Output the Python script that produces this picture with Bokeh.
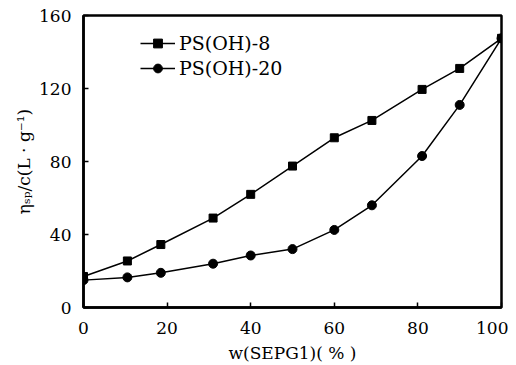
from bokeh.plotting import figure
from bokeh.models import Range1d, FixedTicker, Legend, LegendItem
from bokeh.embed import file_html
from bokeh.resources import INLINE

# data
w_sepg1 = [0, 10.5, 18.5, 31, 40, 50, 60, 69, 81, 90, 100]
ps_oh_8 = [17, 25.5, 34.5, 49, 62, 77.5, 93, 102.5, 119.5, 131, 147.5]
ps_oh_20 = [15, 16.5, 19, 24, 28.5, 32, 42.5, 56, 83, 111, 147.5]
x_ticks = [0, 20, 40, 60, 80, 100]
y_ticks = [0, 40, 80, 120, 160]

FONT = "DejaVu Serif"

p = figure(frame_width=418, frame_height=292,
           output_backend="svg", toolbar_location=None,
           x_range=Range1d(0, 100), y_range=Range1d(0, 160),
           min_border_left=83, min_border_right=7, min_border_top=15, min_border_bottom=50)
p.grid.visible = False
p.outline_line_color = "black"
p.outline_line_width = 2.5

for ax in (p.xaxis[0], p.yaxis[0]):
    ax.axis_line_width = 2.5
    ax.axis_line_color = "black"
    ax.major_tick_in = 5
    ax.major_tick_out = 0
    ax.minor_tick_line_color = None
    ax.major_tick_line_width = 1.5
    ax.major_label_text_font = FONT
    ax.major_label_text_font_size = "17px"
    ax.major_label_text_color = "black"
    ax.axis_label_text_font = FONT
    ax.axis_label_text_font_size = "17px"
    ax.axis_label_text_font_style = "normal"
    ax.axis_label_text_color = "black"

p.xaxis.ticker = FixedTicker(ticks=x_ticks)
p.yaxis.ticker = FixedTicker(ticks=y_ticks)
p.xaxis.major_label_standoff = 14
p.yaxis.major_label_standoff = 12
p.xaxis.axis_label = "w(SEPG1)( % )"
p.yaxis.axis_label = "ηₛₚ/c(L · g⁻¹)"
p.xaxis.axis_label_standoff = 6
p.yaxis.axis_label_standoff = 2

l1 = p.line(w_sepg1, ps_oh_8, line_color="black", line_width=1.5)
m1 = p.scatter(w_sepg1, ps_oh_8, marker="square", size=8, color="black")
l2 = p.line(w_sepg1, ps_oh_20, line_color="black", line_width=1.5)
m2 = p.scatter(w_sepg1, ps_oh_20, marker="circle", size=9, color="black")

legend = Legend(items=[LegendItem(label="PS(OH)-8", renderers=[l1, m1]),
                       LegendItem(label="PS(OH)-20", renderers=[l2, m2])],
                location=(57, 228), padding=0, margin=0, spacing=3,
                glyph_width=35, glyph_height=22, label_standoff=4,
                border_line_alpha=0, background_fill_alpha=0,
                label_text_font=FONT, label_text_font_size="19px",
                label_text_color="black")
p.add_layout(legend)

open("out.html", "w").write(file_html(p, INLINE))
